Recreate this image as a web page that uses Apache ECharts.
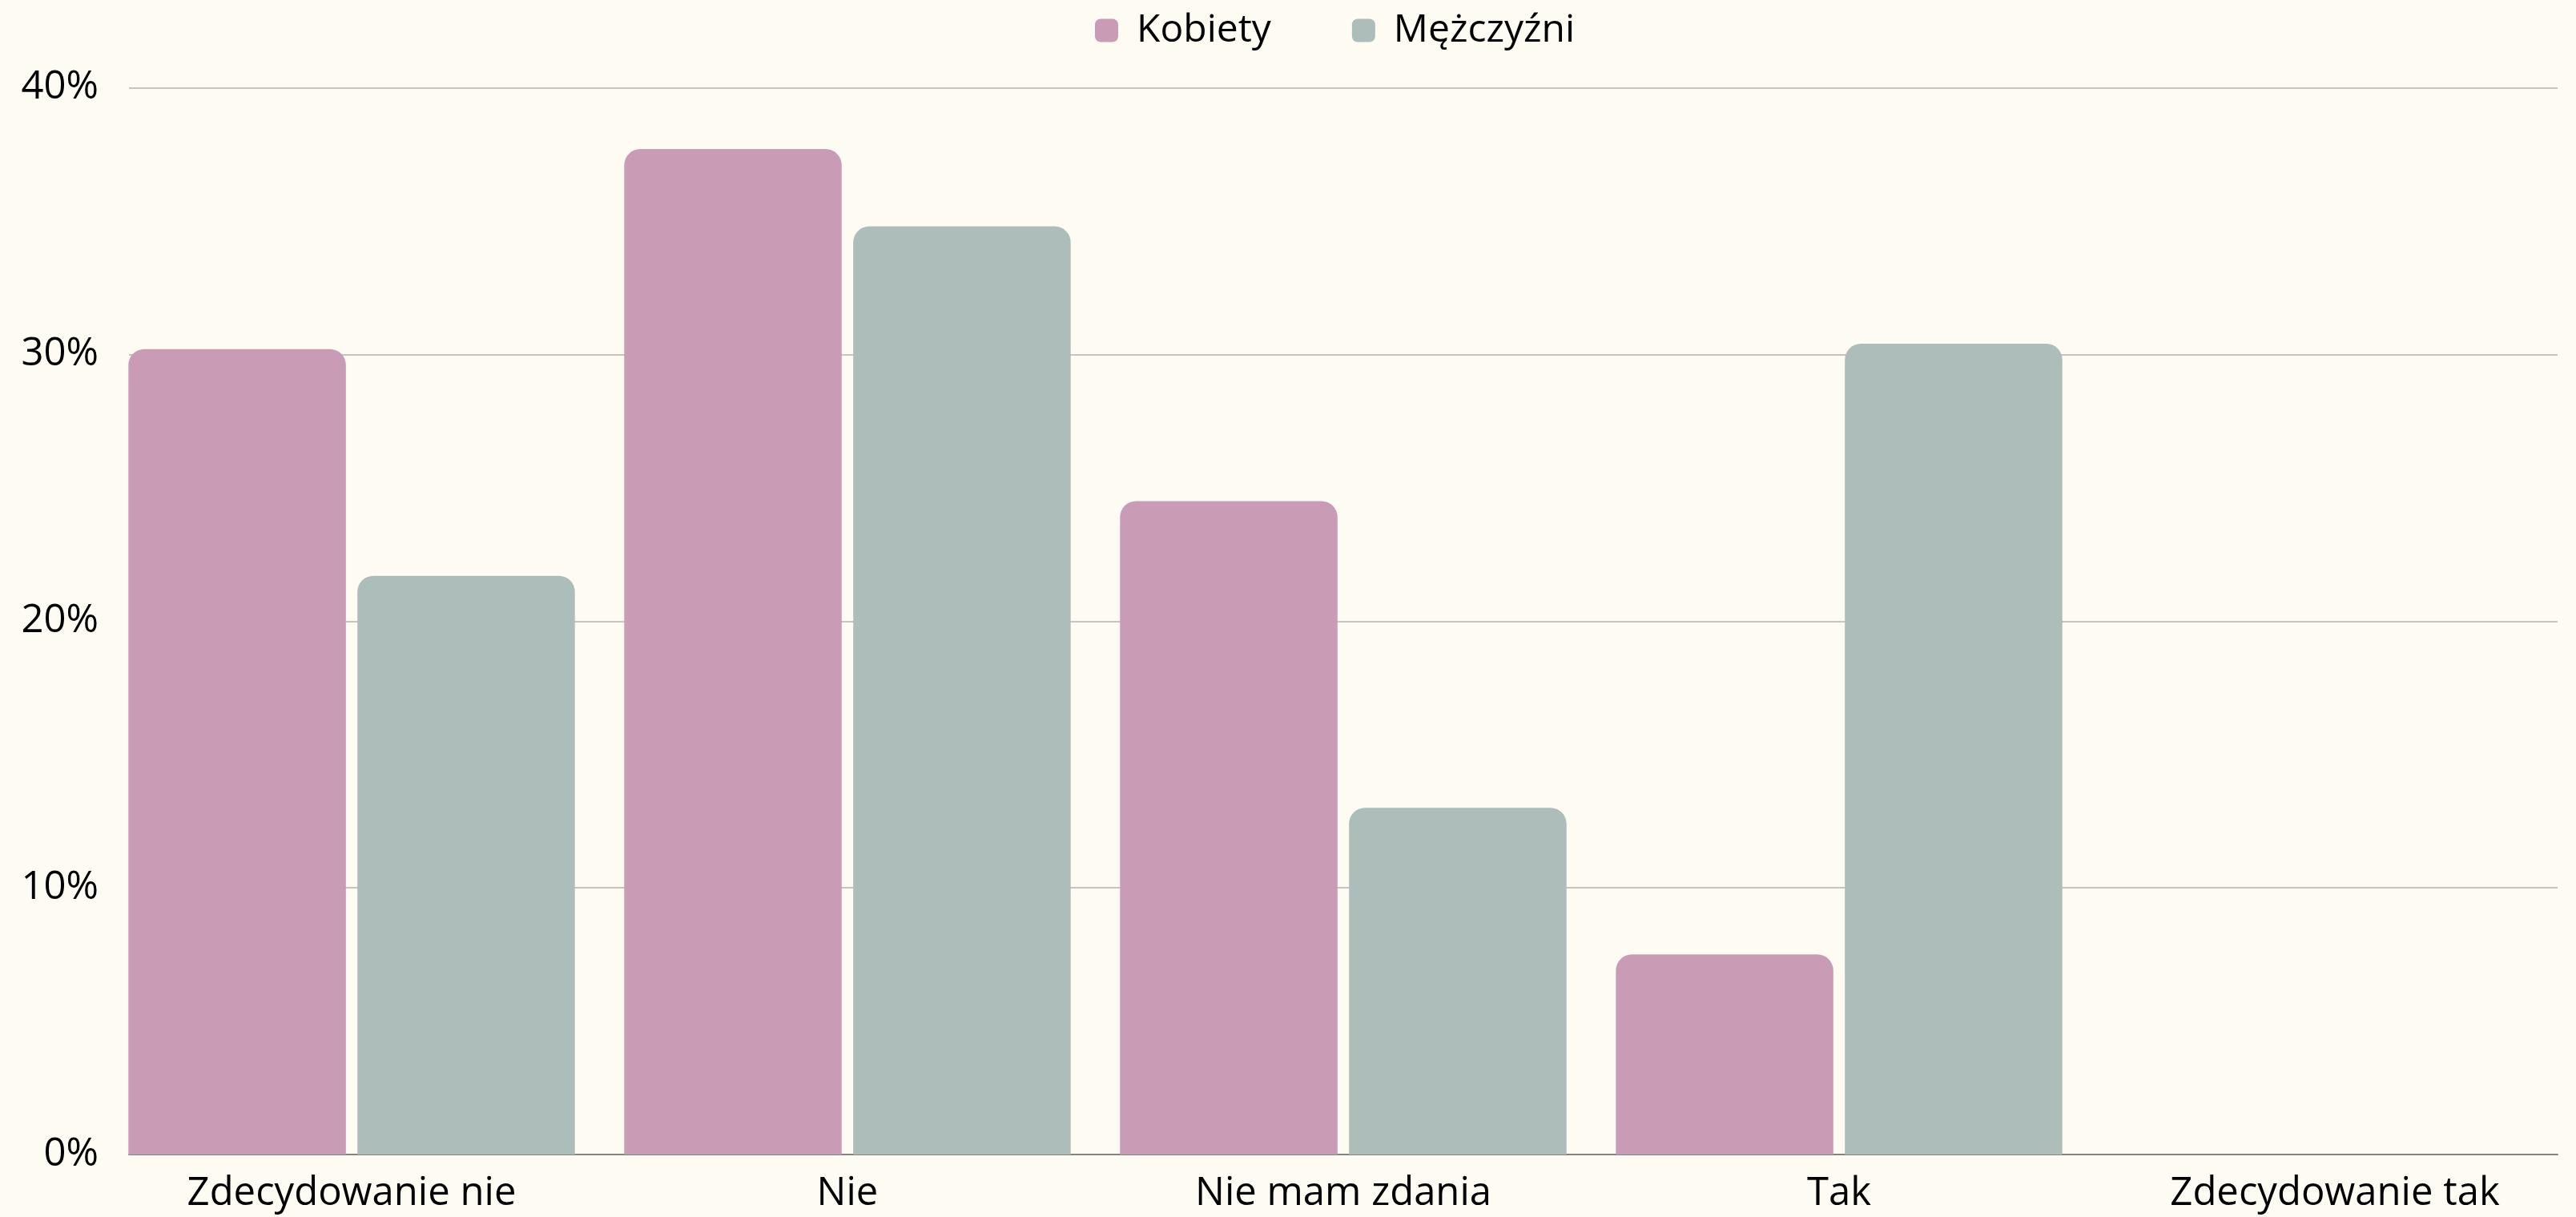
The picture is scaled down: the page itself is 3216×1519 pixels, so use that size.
<!DOCTYPE html>
<html>
<head>
<meta charset="utf-8">
<script src="https://cdn.jsdelivr.net/npm/echarts@6/dist/echarts.min.js"></script>
<style>
  html, body { margin: 0; padding: 0; background: #FEFBF3; }
  #chart { width: 3216px; height: 1519px; }
</style>
</head>
<body>
<div id="chart"></div>
<script>
const categories = ['Zdecydowanie nie', 'Nie', 'Nie mam zdania', 'Tak', 'Zdecydowanie tak'];
const seriesNames = ['Kobiety', 'Mężczyźni'];
const kobiety = [30.2, 37.7, 24.5, 7.5, 0];
const mezczyzni = [21.7, 34.8, 13.0, 30.4, 0];
const yMin = 0, yMax = 40, yInterval = 10;

const FONT = 'Open Sans';
const chart = echarts.init(document.getElementById('chart'), null, { renderer: 'canvas' });

chart.setOption({
  backgroundColor: '#FEFBF3',
  animation: false,
  textStyle: { fontFamily: FONT, color: '#000' },
  legend: {
    data: seriesNames,
    left: 1362,
    top: 9,
    icon: 'roundRect',
    itemWidth: 29,
    itemHeight: 29,
    itemGap: 101,
    textStyle: { fontFamily: FONT, fontSize: 48, color: '#000', lineHeight: 48, padding: [0, 0, 0, 18] }
  },
  grid: [
    { left: 129.5, width: 3095, top: 109.5, bottom: 78, containLabel: false, outerBoundsMode: 'none' },
    { left: 161, right: 23, top: 109.5, bottom: 78, containLabel: false, outerBoundsMode: 'none' }
  ],
  xAxis: [
    {
      type: 'category', gridIndex: 0, data: categories,
      axisLine: { show: false }, axisTick: { show: false },
      axisLabel: { fontFamily: FONT, fontSize: 49, color: '#000', margin: 25, interval: 0 }
    },
    {
      type: 'category', gridIndex: 1, data: categories,
      axisLine: { show: true, lineStyle: { color: '#85837d', width: 2 } },
      axisTick: { show: false }, axisLabel: { show: false }, splitLine: { show: false }
    }
  ],
  yAxis: [
    {
      type: 'value', gridIndex: 0, min: yMin, max: yMax, interval: yInterval,
      show: false, splitLine: { show: false }
    },
    {
      type: 'value', gridIndex: 1, min: yMin, max: yMax, interval: yInterval,
      axisLine: { show: false }, axisTick: { show: false },
      axisLabel: { fontFamily: FONT, fontSize: 49, color: '#000', margin: 38, formatter: '{value}%' },
      splitLine: { show: true, lineStyle: { color: '#c6c4be', width: 2 } }
    }
  ],
  series: [
    {
      name: seriesNames[0], type: 'bar', xAxisIndex: 0, yAxisIndex: 0,
      data: kobiety, barWidth: 271.5, barGap: '5.3%',
      itemStyle: { color: '#C99BB5', borderRadius: [20, 20, 0, 0] }
    },
    {
      name: seriesNames[1], type: 'bar', xAxisIndex: 0, yAxisIndex: 0,
      data: mezczyzni, barWidth: 271.5, barGap: '5.3%',
      itemStyle: { color: '#ADBDBA', borderRadius: [20, 20, 0, 0] }
    }
  ]
});
</script>
</body>
</html>
